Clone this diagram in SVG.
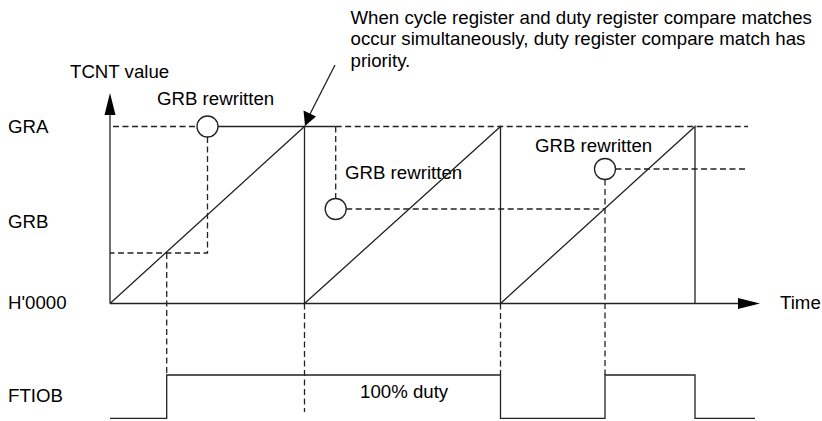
<svg xmlns="http://www.w3.org/2000/svg" width="822" height="421" viewBox="0 0 822 421">
<style>
text{font-family:"Liberation Sans",Arial,Helvetica,sans-serif;font-size:18.67px;fill:#000}
.s{fill:none;stroke:#222;stroke-width:1.3}
.d{fill:none;stroke:#222;stroke-width:1.3;stroke-dasharray:6 3.5}
.c{fill:#fff;stroke:#222;stroke-width:1.3}
.ah{fill:#000;stroke:none}
</style>
<rect width="822" height="421" fill="#fff"/>
<g id="note">
<text x="350.5" y="23.5">When cycle register and duty register compare matches</text>
<text x="350.5" y="45">occur simultaneously, duty register compare match has</text>
<text x="350.5" y="66.5">priority.</text>
<line class="s" x1="335" y1="65" x2="309" y2="116"/>
<polygon class="ah" points="305,126 303.5,110.5 316,116.5"/>
</g>
<g id="axes">
<line class="s" x1="110" y1="303.5" x2="110" y2="112"/>
<polygon class="ah" points="110,93 104.5,115 115.5,115"/>
<line class="s" x1="110" y1="303.5" x2="742" y2="303.5"/>
<polygon class="ah" points="760,303.5 738,298 738,309"/>
</g>
<g id="labels">
<text x="70" y="78">TCNT value</text>
<text x="8" y="133">GRA</text>
<text x="8" y="227.5">GRB</text>
<text x="8" y="309">H'0000</text>
<text x="780" y="309">Time</text>
<text x="8" y="402">FTIOB</text>
<text x="157" y="105">GRB rewritten</text>
<text x="345" y="178.5">GRB rewritten</text>
<text x="535" y="152">GRB rewritten</text>
<text x="360" y="398">100% duty</text>
</g>
<g id="tcnt">
<polyline class="s" points="110,303.5 304.5,126.5 304.5,303.5 500.5,126.5 500.5,303.5 695,126.5 695,303.5"/>
</g>
<g id="register-levels">
<line class="d" x1="113" y1="126.5" x2="197" y2="126.5"/>
<line class="s" x1="218" y1="126.5" x2="335.7" y2="126.5"/>
<line class="d" x1="335.7" y1="126.5" x2="748" y2="126.5"/>
<polyline class="d" points="207.5,137 207.5,253 110,253"/>
<line class="d" x1="166.7" y1="253" x2="166.7" y2="375"/>
<line class="d" x1="335.7" y1="126.5" x2="335.7" y2="198.5"/>
<line class="d" x1="346.2" y1="209" x2="605" y2="209"/>
<line class="d" x1="615.5" y1="169" x2="748" y2="169"/>
<line class="d" x1="605" y1="179.5" x2="605" y2="375"/>
<line class="d" x1="304.5" y1="303.5" x2="304.5" y2="412"/>
<line class="d" x1="500.5" y1="303.5" x2="500.5" y2="375"/>
<circle id="rewrite1" class="c" cx="207.5" cy="126.5" r="10.5"/>
<circle id="rewrite2" class="c" cx="335.7" cy="209" r="10.5"/>
<circle id="rewrite3" class="c" cx="605" cy="169" r="10.5"/>
</g>
<g id="ftiob">
<polyline class="s" points="110,418.3 166.7,418.3 166.7,375 500.5,375 500.5,418.3 605,418.3 605,375 695,375 695,418.3 755,418.3"/>
</g>
</svg>
